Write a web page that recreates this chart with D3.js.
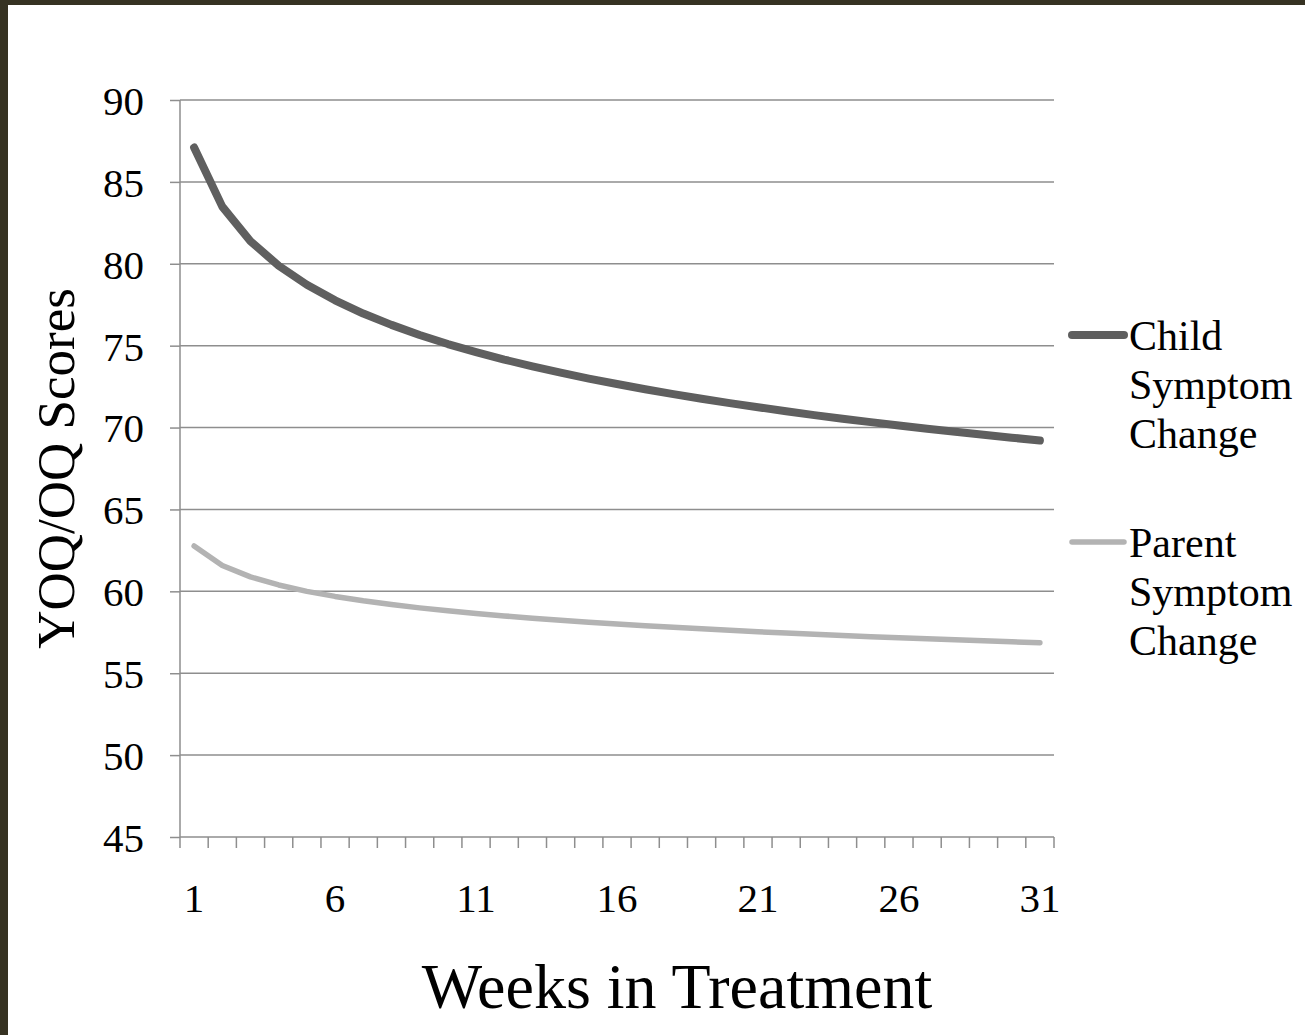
<!DOCTYPE html>
<html>
<head>
<meta charset="utf-8">
<script src="https://cdn.jsdelivr.net/npm/d3@7"></script>
<style>
  html, body { margin: 0; padding: 0; background: #363222; }
  svg { display: block; }
  text { font-family: "Liberation Serif", "Times New Roman", serif; fill: #000; }
</style>
</head>
<body>
<svg id="chart" width="1305" height="1035"></svg>
<script>
// weeks 1..31 (category axis)
const weeks = [1,2,3,4,5,6,7,8,9,10,11,12,13,14,15,16,17,18,19,20,21,22,23,24,25,26,27,28,29,30,31];
const weekLabels = [1, 6, 11, 16, 21, 26, 31];
const yTicks = [45, 50, 55, 60, 65, 70, 75, 80, 85, 90];

const childValues = [87.10, 83.49, 81.38, 79.88, 78.72, 77.77, 76.96, 76.27, 75.65, 75.10,
                     74.61, 74.15, 73.74, 73.35, 72.99, 72.66, 72.34, 72.04, 71.76, 71.49,
                     71.24, 71.00, 70.76, 70.54, 70.33, 70.13, 69.93, 69.74, 69.56, 69.38, 69.21];
const parentValues = [62.77, 61.58, 60.88, 60.39, 60.00, 59.69, 59.42, 59.19, 58.99, 58.81,
                      58.65, 58.50, 58.36, 58.23, 58.11, 58.00, 57.90, 57.80, 57.71, 57.62,
                      57.53, 57.45, 57.38, 57.30, 57.23, 57.17, 57.10, 57.04, 56.98, 56.92, 56.86];

const seriesNames = ['Child\nSymptom\nChange', 'Parent\nSymptom\nChange'];
const seriesColors = ['#5f5f5f', '#b3b3b3'];

const svg = d3.select('#chart');

// white page, frame visible on left/top only
svg.append('rect')
    .attr('x', 8).attr('y', 5)
    .attr('width', 1305 - 8).attr('height', 1035 - 5)
    .attr('fill', '#fff');

const plotLeft = 180, plotRight = 1054, plotTop = 100, plotBottom = 837;

const xScale = d3.scaleBand()
    .domain(weeks)
    .range([plotLeft, plotRight]);

const yScale = d3.scaleLinear()
    .domain([45, 90])
    .range([plotBottom, plotTop]);

const gridColor = '#8e8e8e';

// horizontal gridlines
svg.append('g')
    .selectAll('line')
    .data(yTicks.filter(d => d !== 45))
    .join('line')
    .attr('x1', plotLeft).attr('x2', plotRight)
    .attr('y1', d => yScale(d)).attr('y2', d => yScale(d))
    .attr('stroke', gridColor)
    .attr('stroke-width', 1.5);

// y axis
const yAxis = svg.append('g')
    .attr('transform', `translate(${plotLeft},0)`)
    .call(d3.axisLeft(yScale).tickValues(yTicks).tickSize(10).tickPadding(26));
yAxis.select('.domain').remove();
yAxis.selectAll('line').attr('stroke', gridColor).attr('stroke-width', 1.5);
yAxis.selectAll('text')
    .style('font-family', '"Liberation Serif", "Times New Roman", serif')
    .style('font-size', '41px')
    .attr('fill', '#000')
    .attr('dy', '0.35em');

svg.append('line')
    .attr('x1', plotLeft).attr('x2', plotLeft)
    .attr('y1', plotTop).attr('y2', plotBottom)
    .attr('stroke', gridColor).attr('stroke-width', 1.5);

// x axis
svg.append('line')
    .attr('x1', plotLeft).attr('x2', plotRight)
    .attr('y1', plotBottom).attr('y2', plotBottom)
    .attr('stroke', gridColor).attr('stroke-width', 1.5);

// tick marks between categories
const boundaries = weeks.map(w => xScale(w)).concat([xScale.range()[1]]);
svg.append('g')
    .selectAll('line')
    .data(boundaries)
    .join('line')
    .attr('x1', d => d).attr('x2', d => d)
    .attr('y1', plotBottom).attr('y2', plotBottom + 11)
    .attr('stroke', gridColor).attr('stroke-width', 1.5);

const xAxis = svg.append('g')
    .attr('transform', `translate(0,${plotBottom})`)
    .call(d3.axisBottom(xScale).tickValues(weekLabels).tickSize(0).tickPadding(46));
xAxis.select('.domain').remove();
xAxis.selectAll('text')
    .style('font-family', '"Liberation Serif", "Times New Roman", serif')
    .style('font-size', '41px')
    .attr('fill', '#000');

// lines
const line = d3.line()
    .x((d, i) => xScale(weeks[i]) + xScale.bandwidth() / 2)
    .y(d => yScale(d));

svg.append('path')
    .datum(parentValues)
    .attr('d', line)
    .attr('fill', 'none')
    .attr('stroke', seriesColors[1])
    .attr('stroke-width', 5.5)
    .attr('stroke-linejoin', 'round')
    .attr('stroke-linecap', 'round');

svg.append('path')
    .datum(childValues)
    .attr('d', line)
    .attr('fill', 'none')
    .attr('stroke', seriesColors[0])
    .attr('stroke-width', 8)
    .attr('stroke-linejoin', 'round')
    .attr('stroke-linecap', 'round');

// legend
const legendY = [335, 542];
const widths = [8, 5.5];
seriesNames.forEach((name, i) => {
    const g = svg.append('g').attr('transform', `translate(1072,${legendY[i]})`);
    g.append('line')
        .attr('x1', 0).attr('x2', 52)
        .attr('y1', 0).attr('y2', 0)
        .attr('stroke', seriesColors[i])
        .attr('stroke-width', widths[i])
        .attr('stroke-linecap', 'round');
    const t = g.append('text')
        .attr('x', 57)
        .attr('y', 15)
        .style('font-size', '42px');
    name.split('\n').forEach((part, j) => {
        t.append('tspan').attr('x', 57).attr('dy', j === 0 ? 0 : 49).text(part);
    });
});

// axis titles
svg.append('text')
    .attr('transform', `translate(74,${(plotTop + plotBottom) / 2}) rotate(-90)`)
    .attr('text-anchor', 'middle')
    .style('font-size', '53px')
    .text('YOQ/OQ Scores');

svg.append('text')
    .attr('x', 677)
    .attr('y', 1008)
    .attr('text-anchor', 'middle')
    .style('font-size', '64px')
    .text('Weeks in Treatment');
</script>
</body>
</html>
